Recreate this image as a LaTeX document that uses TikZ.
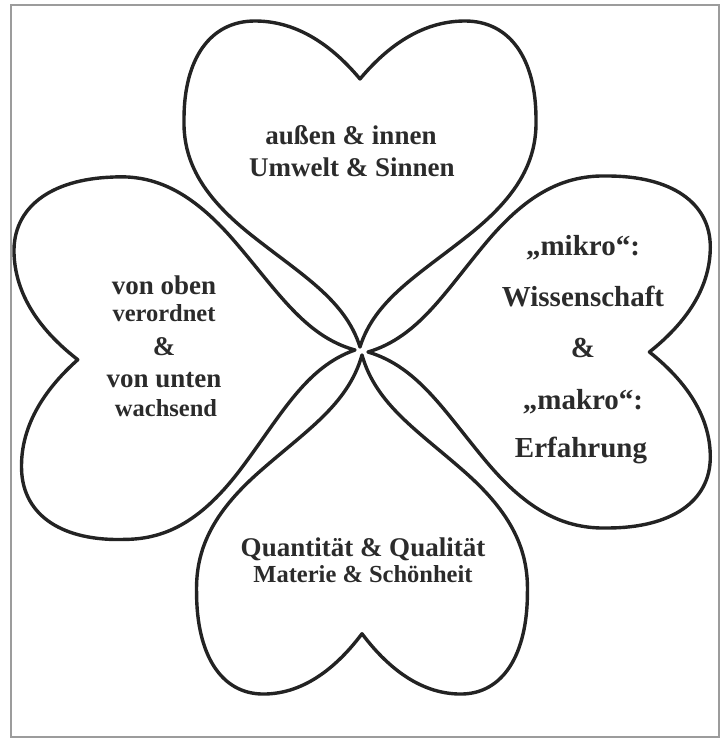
\documentclass[tikz,border=0pt]{standalone}
\usepackage{fontspec}
\setmainfont{Liberation Serif}
\definecolor{Ink}{HTML}{232323}
\definecolor{Print}{HTML}{2B2B2B}
\definecolor{Frame}{HTML}{9C9C9C}
% one heart, tip at the origin, notch up the y axis
\newcommand{\leafoutline}{(0,0) .. controls (-15,48) and (-60,73) .. (-110,113) .. controls (-160,153) and (-177,188) .. (-176,228) .. controls (-176,288) and (-150,326) .. (-105,326) .. controls (-60,326) and (-25,298) .. (0,268) .. controls (25,298) and (60,326) .. (105,326) .. controls (150,326) and (176,288) .. (176,228) .. controls (177,188) and (160,153) .. (110,113) .. controls (60,73) and (15,48) .. cycle}

\begin{document}
\begin{tikzpicture}[x=1pt,y=1pt,
    leaf/.style={draw=Ink,line width=3.4pt,line join=round},
    big/.style={anchor=base,text=Print,font=\fontsize{27}{32}\selectfont\bfseries},
    small/.style={anchor=base,text=Print,font=\fontsize{24.5}{29}\selectfont\bfseries},
    wide/.style={anchor=base,text=Print,font=\fontsize{29}{34}\selectfont\bfseries}]
    \useasboundingbox (0,0) rectangle (725,740);
    \draw[Frame,line width=1.4pt] (11,3) rectangle (719,735);

    % the four leaves
    \draw[leaf,shift={(360,393)}] \leafoutline;
    \draw[leaf,shift={(355,390)},rotate=92,xscale=1.03,yscale=1.035] \leafoutline;
    \draw[leaf,shift={(368,388)},rotate=-90,xscale=1.0,yscale=1.05] \leafoutline;
    \draw[leaf,shift={(362,385)},rotate=180,xscale=0.94,yscale=1.04] \leafoutline;

    % top
    \node[big] (top1) at (351,595) {außen \& innen};
    \node[big] (top2) at (352,563) {Umwelt \& Sinnen};

    % left
    \node[big] (left1) at (164,445) {von oben};
    \node[small] (left2) at (164,418) {verordnet};
    \node[big] (left3) at (164,384) {\&};
    \node[big] (left4) at (164,352) {von unten};
    \node[small] (left5) at (166,323) {wachsend};

    % right
    \node[wide] (right1) at (583,484) {„mikro“:};
    \node[wide] (right2) at (583,433) {Wissenschaft};
    \node[wide] (right3) at (583,382) {\&};
    \node[wide] (right4) at (583,330) {„makro“:};
    \node[wide] (right5) at (581,282) {Erfahrung};

    % bottom
    \node[big] (bottom1) at (363,183) {Quantität \& Qualität};
    \node[small] (bottom2) at (363,157) {Materie \& Schönheit};
\end{tikzpicture}
\end{document}
